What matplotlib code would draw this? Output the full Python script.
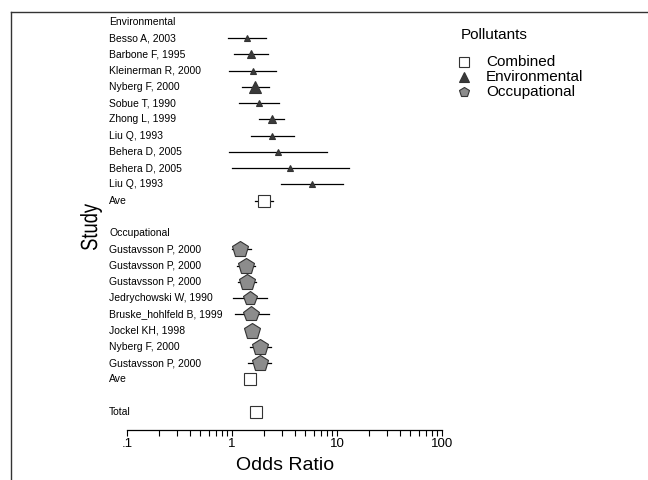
import numpy as np
import matplotlib.pyplot as plt
from matplotlib.lines import Line2D
from matplotlib.textpath import TextPath
from matplotlib.patches import PathPatch
from matplotlib.font_manager import FontProperties
from matplotlib.transforms import Affine2D, IdentityTransform

plt.rcParams['font.family'] = ['Liberation Sans', 'DejaVu Sans']

# data
env_studies = ['Besso A, 2003', 'Barbone F, 1995', 'Kleinerman R, 2000', 'Nyberg F, 2000',
               'Sobue T, 1990', 'Zhong L, 1999', 'Liu Q, 1993', 'Behera D, 2005',
               'Behera D, 2005', 'Liu Q, 1993']
env_or = [1.39, 1.52, 1.58, 1.66, 1.81, 2.4, 2.4, 2.74, 3.57, 5.8]
env_lo = [0.92, 1.04, 0.94, 1.25, 1.17, 1.81, 1.52, 0.94, 1.0, 2.93]
env_hi = [2.1, 2.2, 2.6, 2.25, 2.8, 3.1, 3.9, 8.0, 13.0, 11.4]
env_w = [1, 2.2, 1, 5, 1.2, 1.5, 1.2, 0.8, 0.8, 0.8]

occ_studies = ['Gustavsson P, 2000', 'Gustavsson P, 2000', 'Gustavsson P, 2000',
               'Jedrychowski W, 1990', 'Bruske_hohlfeld B, 1999', 'Jockel KH, 1998',
               'Nyberg F, 2000', 'Gustavsson P, 2000']
occ_or = [1.19, 1.36, 1.39, 1.48, 1.52, 1.55, 1.85, 1.85]
occ_lo = [1.0, 1.12, 1.14, 1.02, 1.07, 1.45, 1.48, 1.42]
occ_hi = [1.52, 1.66, 1.69, 2.15, 2.25, 1.65, 2.35, 2.35]
occ_w = [5, 5, 5, 3.5, 4.5, 5, 5, 5]

env_ave = (2.0, 1.66, 2.45)
occ_ave = (1.48, 1.44, 1.53)
total = (1.69, 1.64, 1.74)

xticks = [0.1, 1, 10, 100]
xticklabels = ['.1', '1', '10', '100']

W, H = 648, 480
fig = plt.figure(figsize=(W / 100, H / 100), dpi=100)

# axes spans from the frame to the right edge; x maps 105 px per decade
x0_px, top_px = 11, 12
ax = fig.add_axes([x0_px / W, 0, 1 - x0_px / W, 1 - top_px / H])
px_dec = 105.0
one_px = 232.0
ax.set_xscale('log')
ax.set_xlim(10 ** ((x0_px - one_px) / px_dec), 10 ** ((W - one_px) / px_dec))

row_h = 16.25
row0 = 22.0
ax.set_ylim((H - row0) / row_h, -(row0 - top_px) / row_h)

label_x = 10 ** ((109 - one_px) / px_dec)
fs = 7.5

def draw_row(y, label, est=None, lo=None, hi=None, marker=None, ms=6, fc='k'):
    ax.text(label_x, y, label, fontsize=fs, va='center', ha='left')
    if est is None:
        return
    ax.plot([lo, hi], [y, y], color='black', lw=0.9, zorder=2)
    ax.plot([est], [y], marker=marker, ms=ms, mfc=fc, mec='#333333', mew=0.8,
            ls='none', zorder=3)

y = 0
draw_row(y, 'Environmental')
for s, e, l, h, w in zip(env_studies, env_or, env_lo, env_hi, env_w):
    y += 1
    draw_row(y, s, e, l, h, '^', 3.3 * np.sqrt(w) + 1.2, '#3a3a3a')
y += 1
draw_row(y, 'Ave', *env_ave, 's', 8.5, 'white')
y += 2
draw_row(y, 'Occupational')
for s, e, l, h, w in zip(occ_studies, occ_or, occ_lo, occ_hi, occ_w):
    y += 1
    draw_row(y, s, e, l, h, 'p', 5.4 * np.sqrt(w), '#8c8c8c')
y += 1
draw_row(y, 'Ave', *occ_ave, 's', 8.5, 'white')
y += 2
draw_row(y, 'Total', *total, 's', 8.5, 'white')

# axis
for sp in ['top', 'right', 'left']:
    ax.spines[sp].set_visible(False)
ax.spines['bottom'].set_position(('data', (430 - row0) / row_h))
ax.spines['bottom'].set_bounds(0.1, 100)
ax.spines['bottom'].set_linewidth(0.9)
ax.set_yticks([])
ax.set_xticks(xticks)
ax.set_xticklabels(xticklabels, fontsize=9.5)
ax.tick_params(axis='x', which='both', direction='out', length=4, width=0.8, pad=2)
minor = [m * 10.0 ** d for d in (-1, 0, 1) for m in range(2, 10)]
ax.set_xticks(minor, minor=True)
ax.set_xticklabels([], minor=True)

fig.text(285 / W, 1 - 466 / H, 'Odds Ratio', fontsize=14, ha='center', va='center')

# "Study" is drawn horizontally squeezed, as in the original
tp = TextPath((0, 0), 'Study', size=23.5, prop=FontProperties(family='Liberation Sans'))
ext = tp.get_extents()
sx = 46.0 / ext.width
cx, cy = 91.0, H - 227.0
tr = (Affine2D().translate(-(ext.x0 + ext.width / 2), -(ext.y0 + ext.height / 2))
      .scale(sx, 1.0).rotate_deg(90).translate(cx, cy))
fig.add_artist(PathPatch(tr.transform_path(tp), transform=IdentityTransform(),
                         color='black', lw=0))

# legend
fig.text(461 / W, 1 - 35 / H, 'Pollutants', fontsize=11, va='center')
leg = [('s', 'white', 'Combined', 62), ('^', '#3a3a3a', 'Environmental', 77),
       ('p', '#8c8c8c', 'Occupational', 92)]
for mk, fc, lab, yp in leg:
    fig.add_artist(Line2D([464 / W], [1 - yp / H], marker=mk, ms=7, mfc=fc, mec='#333333',
                          mew=0.8, ls='none'))
    fig.text(486 / W, 1 - yp / H, lab, fontsize=11, va='center')

# frame lines at top and left
fig.add_artist(Line2D([x0_px / W, 1], [1 - top_px / H] * 2, color='#333333', lw=1))
fig.add_artist(Line2D([x0_px / W] * 2, [0, 1 - top_px / H], color='#333333', lw=1))

fig.savefig('out.png', dpi=100)
